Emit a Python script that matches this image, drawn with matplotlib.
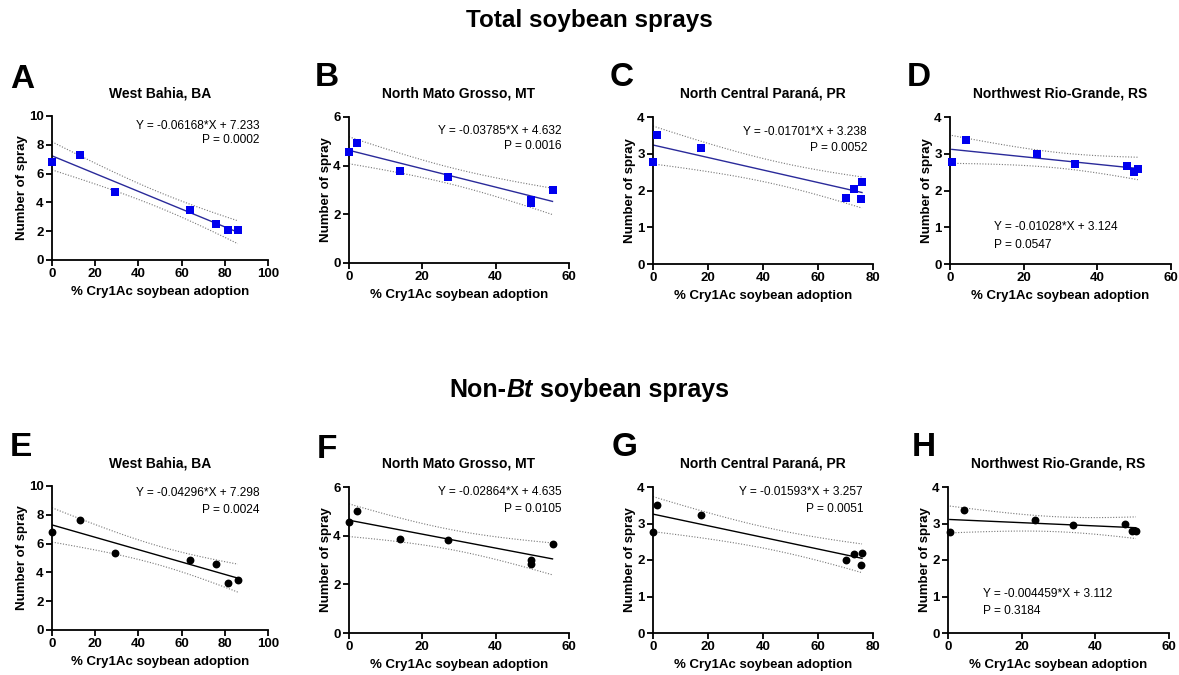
import numpy as np
import matplotlib
matplotlib.use("Agg")
import matplotlib.pyplot as plt

plt.rcParams['font.family'] = ['Liberation Sans', 'DejaVu Sans']

# ---- data ----
regions = ["West Bahia, BA", "North Mato Grosso, MT",
           "North Central Paraná, PR", "Northwest Rio-Grande, RS"]
xmax = [100, 60, 80, 60]
ymax = [10, 6, 4, 4]
yticks_step = [2, 2, 1, 1]

x_ba = [0, 13, 29, 64, 76, 81.5, 86]
x_mt = [0, 2.3, 14, 27, 49.5, 49.5, 55.5]
x_pr = [0, 1.3, 17.5, 70, 73, 75.5, 76]
x_rs = [0.5, 4.3, 23.5, 34, 48, 50, 51]

total_ba = [6.8, 7.3, 4.75, 3.5, 2.5, 2.05, 2.05]
total_mt = [4.55, 4.95, 3.8, 3.55, 2.6, 2.45, 3.0]
total_pr = [2.78, 3.5, 3.15, 1.8, 2.05, 1.76, 2.22]
total_rs = [2.78, 3.38, 3.0, 2.73, 2.68, 2.5, 2.58]

nonbt_ba = [6.8, 7.65, 5.35, 4.85, 4.55, 3.25, 3.45]
nonbt_mt = [4.55, 5.0, 3.85, 3.82, 3.0, 2.85, 3.65]
nonbt_pr = [2.78, 3.5, 3.22, 2.0, 2.17, 1.86, 2.2]
nonbt_rs = [2.78, 3.38, 3.1, 2.96, 2.98, 2.8, 2.8]

total_slope = [-0.06168, -0.03785, -0.01701, -0.01028]
total_icpt = [7.233, 4.632, 3.238, 3.124]
total_p = ["0.0002", "0.0016", "0.0052", "0.0547"]
total_slope_txt = ["-0.06168", "-0.03785", "-0.01701", "-0.01028"]

nonbt_slope = [-0.04296, -0.02864, -0.01593, -0.004459]
nonbt_icpt = [7.298, 4.635, 3.257, 3.112]
nonbt_p = ["0.0024", "0.0105", "0.0051", "0.3184"]
nonbt_slope_txt = ["-0.04296", "-0.02864", "-0.01593", "-0.004459"]

xs = [x_ba, x_mt, x_pr, x_rs]
total = [total_ba, total_mt, total_pr, total_rs]
nonbt = [nonbt_ba, nonbt_mt, nonbt_pr, nonbt_rs]

W, H = 1179, 675
fig = plt.figure(figsize=(W / 100, H / 100), dpi=100)

# layout in pixels
lefts = [[52, 349, 653, 950], [52, 349, 653, 948]]
widths = [216, 220, 220, 221]
row_top = [[116, 117, 117, 117], [486, 487, 487, 487]]
row_bot = [[260, 263, 264, 264], [630, 633, 633, 633]]
title_y = [93, 463]
letter_x = [[10, 315, 610, 907], [10, 317, 612, 912]]
letter_y = [[80, 78, 78, 78], [447, 450, 448, 448]]
# equation placement (axes fraction): x, y_eq, y_p, align
eq_pos = [[(0.96, 0.93, 0.83, 'right'), (0.968, 0.904, 0.80, 'right'),
           (0.973, 0.897, 0.79, 'right'), (0.20, 0.25, 0.13, 'left')],
          [(0.96, 0.95, 0.83, 'right'), (0.968, 0.966, 0.85, 'right'),
           (0.955, 0.966, 0.85, 'right'), (0.16, 0.27, 0.15, 'left')]]


def panel(i, row, yvals, slope, icpt, ptxt, stxt, letter):
    l = lefts[row][i]
    top, bot = row_top[row][i], row_bot[row][i]
    ax = fig.add_axes([l / W, 1 - bot / H, widths[i] / W, (bot - top) / H])
    x = np.array(xs[i], float)
    y = np.array(yvals, float)
    if row == 0:
        pcol, lcol, mk = '#0000ee', '#2a2a9a', 's'
    else:
        pcol, lcol, mk = 'black', 'black', 'o'

    # fitted line and 95% confidence band
    n = len(x)
    xx = np.linspace(x.min(), x.max(), 100)
    yy = slope * xx + icpt
    resid = y - (slope * x + icpt)
    s = np.sqrt(np.sum(resid ** 2) / (n - 2))
    t = 2.571
    se = s * np.sqrt(1 / n + (xx - x.mean()) ** 2 / np.sum((x - x.mean()) ** 2))
    ax.plot(xx, yy, color=lcol, lw=1.0, zorder=2)
    ax.plot(xx, yy + t * se, color='#777777', lw=0.8, ls=(0, (1, 1.5)), zorder=1)
    ax.plot(xx, yy - t * se, color='#777777', lw=0.8, ls=(0, (1, 1.5)), zorder=1)
    ax.scatter(x, y, marker=mk, s=32, color=pcol, zorder=3, clip_on=False,
               linewidths=0)

    ax.set_xlim(0, xmax[i])
    ax.set_ylim(0, ymax[i])
    ax.set_xticks(np.arange(0, xmax[i] + 1, 20))
    ax.set_yticks(np.arange(0, ymax[i] + 0.1, yticks_step[i]))
    for sp in ['top', 'right']:
        ax.spines[sp].set_visible(False)
    for sp in ['left', 'bottom']:
        ax.spines[sp].set_linewidth(1.3)
    ax.tick_params(width=1.3, length=4, labelsize=9.5, pad=2)
    for lab in ax.get_xticklabels() + ax.get_yticklabels():
        lab.set_fontweight('bold')
    ax.set_xlabel("% Cry1Ac soybean adoption", fontsize=9.5, fontweight='bold',
                  labelpad=4)
    ax.set_ylabel("Number of spray", fontsize=9.5, fontweight='bold', labelpad=1)

    cx = (l + widths[i] / 2) / W
    fig.text(cx, 1 - title_y[row] / H, regions[i], fontsize=10,
             fontweight='bold', ha='center', va='center')
    fig.text(letter_x[row][i] / W, 1 - letter_y[row][i] / H, letter,
             fontsize=24, fontweight='bold', ha='left', va='center')

    ex, ey, ep, al = eq_pos[row][i]
    eq = "Y = %s*X + %s" % (stxt, icpt)
    ax.text(ex, ey, eq, transform=ax.transAxes, fontsize=8.6,
            ha=al, va='center')
    ax.text(ex, ep, "P = " + ptxt, transform=ax.transAxes, fontsize=8.6,
            ha=al, va='center')


letters = "ABCDEFGH"
for i in range(4):
    panel(i, 0, total[i], total_slope[i], total_icpt[i], total_p[i],
          total_slope_txt[i], letters[i])
    panel(i, 1, nonbt[i], nonbt_slope[i], nonbt_icpt[i], nonbt_p[i],
          nonbt_slope_txt[i], letters[i + 4])

fig.text(0.5, 1 - 20 / H, "Total soybean sprays", fontsize=17.5,
         fontweight='bold', ha='center', va='center')

# "Non-Bt soybean sprays" with italic Bt, assembled from three pieces
renderer = fig.canvas.get_renderer()
parts = [("Non-", 'normal'), ("Bt", 'italic'), (" soybean sprays", 'normal')]
objs = []
for txt, st in parts:
    objs.append(fig.text(0, 1 - 390 / H, txt, fontsize=18, fontweight='bold',
                         style=st, ha='left', va='center'))
widths_px = [o.get_window_extent(renderer).width for o in objs]
total_w = sum(widths_px)
x0 = W / 2 - total_w / 2
for o, w in zip(objs, widths_px):
    o.set_x(x0 / W)
    x0 += w

fig.savefig("out.png", dpi=100)
